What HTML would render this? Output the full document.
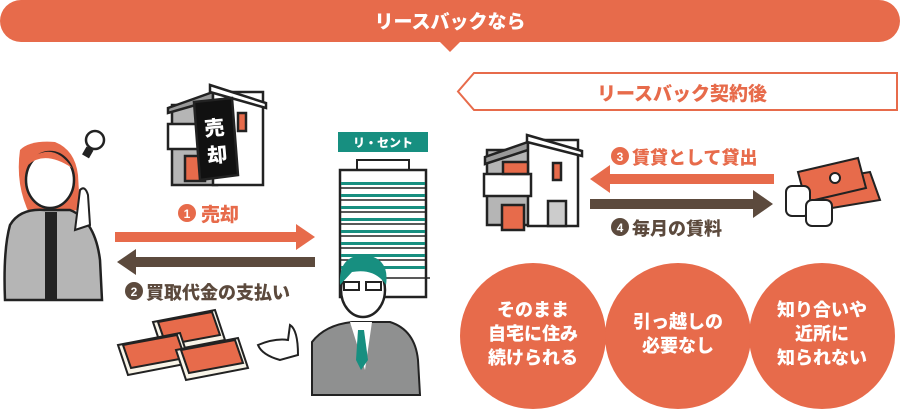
<!DOCTYPE html>
<html><head><meta charset="utf-8"><style>
html,body{margin:0;padding:0;background:#fff}
svg{display:block}
text{font-family:"Liberation Sans","Noto Sans CJK JP",sans-serif;font-weight:900}
</style></head><body>
<svg width="900" height="415" viewBox="0 0 900 415" xmlns="http://www.w3.org/2000/svg">
<path d="M21 0 H879 A21 21 0 0 1 879 42 H460 L450 52 L440 42 H21 A21 21 0 0 1 21 0 Z" fill="#E76B4B"/>
<text x="450" y="28" font-size="19" fill="#fff" text-anchor="middle">リースバックなら</text>
<path d="M474 73 H897 V110 H474 L458 91.5 Z" fill="#fff" stroke="#E76B4B" stroke-width="2"/>
<text x="682" y="100" font-size="19" fill="#E76B4B" text-anchor="middle">リースバック契約後</text>

<g stroke="#222" stroke-width="2.5">
<rect x="172" y="105" width="45" height="80" fill="#b5b5b5"/>
<polygon points="168,108 213,92 213,100 168,113" fill="#999"/>
<rect x="213" y="92" width="50" height="93" fill="#fff"/>
<polygon points="210,85 266,103 266,108 210,92" fill="#fff"/>
<rect x="168" y="124" width="45" height="25" fill="#fff"/>
<rect x="238" y="113" width="8" height="18" fill="#E76B4B"/>
<rect x="185" y="156" width="20" height="25" fill="#E76B4B"/>
<polygon points="194,102 232,98 238,175 200,180" fill="#111"/>
</g>
<text x="215" y="135" font-size="20" fill="#fff" text-anchor="middle" transform="rotate(-5 215 135)">売</text>
<text x="218" y="162" font-size="20" fill="#fff" text-anchor="middle" transform="rotate(-5 218 162)">却</text>

<rect x="338" y="132" width="90" height="20" fill="#178F80"/>
<text x="383" y="147" font-size="12" fill="#fff" text-anchor="middle">リ・セント</text>
<rect x="357" y="160" width="52" height="10" fill="#fff" stroke="#222" stroke-width="2"/>
<rect x="340" y="170" width="86" height="127" fill="#fff" stroke="#222" stroke-width="2.5"/>
<g fill="#178F80">
<rect x="341" y="182" width="84" height="3"/><rect x="341" y="194" width="84" height="3"/><rect x="341" y="206" width="84" height="3"/><rect x="341" y="218" width="84" height="3"/><rect x="341" y="230" width="84" height="3"/><rect x="341" y="242" width="84" height="3"/><rect x="341" y="254" width="84" height="3"/><rect x="341" y="266" width="84" height="3"/>
</g>
<g stroke="#222" stroke-width="1.5"><line x1="340" y1="188" x2="426" y2="188"/><line x1="340" y1="200" x2="426" y2="200"/><line x1="340" y1="212" x2="426" y2="212"/><line x1="340" y1="224" x2="426" y2="224"/><line x1="340" y1="236" x2="426" y2="236"/><line x1="340" y1="248" x2="426" y2="248"/><line x1="340" y1="260" x2="426" y2="260"/><line x1="340" y1="278" x2="430" y2="278"/></g>

<path d="M20 150 Q30 140 55 142 Q75 150 78 175 L80 210 L30 215 Q15 185 20 150Z" fill="#E76B4B"/>
<ellipse cx="50" cy="180" rx="24" ry="28" fill="#fff" stroke="#222" stroke-width="2.5"/>
<path d="M28 165 Q45 150 72 168 Q60 150 45 152 Q30 155 28 165Z" fill="#E76B4B"/>
<path d="M10 225 Q20 208 45 210 L70 210 Q95 220 100 260 L102 300 L5 300 Q3 250 10 225Z" fill="#b5b5b5" stroke="#222" stroke-width="2.5"/>
<rect x="45" y="212" width="12" height="88" fill="#222"/>
<path d="M80 190 Q85 185 88 195 L90 225 L75 230Z" fill="#fff" stroke="#222" stroke-width="2"/>
<circle cx="95" cy="140" r="9" fill="#fff" stroke="#222" stroke-width="2.5"/>
<rect x="84" y="148" width="8" height="9" fill="#222" transform="rotate(30 88 152)"/>

<rect x="115" y="232" width="183" height="10" fill="#E76B4B"/>
<polygon points="296,224 315,237 296,250" fill="#E76B4B"/>
<rect x="134" y="257" width="181" height="10" fill="#5C4A3D"/>
<polygon points="136,249 117,262 136,275" fill="#5C4A3D"/>
<circle cx="187" cy="213" r="9" fill="#E76B4B"/><text x="187" y="218" font-size="12" fill="#fff" text-anchor="middle">1</text>
<text x="201" y="221" font-size="19" fill="#E76B4B">売却</text>
<circle cx="134" cy="291" r="9" fill="#5C4A3D"/><text x="134" y="296" font-size="12" fill="#fff" text-anchor="middle">2</text>
<text x="146" y="299" font-size="18" fill="#5C4A3D">買取代金の支払い</text>

<g stroke="#222" stroke-width="2">
<polygon points="153,322 215,310 225,340 163,352" fill="#f8f4e8"/>
<polygon points="158,322 212,312 220,335 166,345" fill="#E76B4B"/>
<polygon points="118,345 180,333 190,363 128,375" fill="#f8f4e8"/>
<polygon points="123,345 177,335 185,358 131,368" fill="#E76B4B"/>
<polygon points="176,350 238,338 248,368 186,380" fill="#f8f4e8"/>
<polygon points="181,350 235,340 243,363 189,373" fill="#E76B4B"/>
</g>

<path d="M312 342 Q325 325 352 322 L390 322 Q415 330 418 360 L420 395 L312 395Z" fill="#8f9090" stroke="#222" stroke-width="2"/>
<polygon points="350,322 372,322 365,370" fill="#fff"/>
<polygon points="358,330 364,330 368,360 361,370 356,360" fill="#178F80"/>
<ellipse cx="363" cy="290" rx="22" ry="27" fill="#fff" stroke="#222" stroke-width="2.5"/>
<path d="M340 285 Q338 255 365 255 Q390 258 386 285 Q375 268 352 272 Z" fill="#178F80"/>
<rect x="344" y="282" width="15" height="8" fill="none" stroke="#222" stroke-width="2"/><rect x="366" y="282" width="15" height="8" fill="none" stroke="#222" stroke-width="2"/>
<path d="M258 345 Q275 338 288 340 L290 325 Q298 330 298 355 L280 360 Q262 355 258 345Z" fill="#fff" stroke="#222" stroke-width="2"/>

<g stroke="#222" stroke-width="2.5">
<rect x="487" y="150" width="44" height="75" fill="#b5b5b5"/>
<polygon points="485,157 528,142 528,150 485,164" fill="#999"/>
<rect x="528" y="140" width="50" height="86" fill="#fff"/>
<polygon points="527,135 582,151 582,156 527,142" fill="#fff"/>
<rect x="484" y="174" width="47" height="22" fill="#fff"/>
<rect x="503" y="162" width="25" height="12" fill="#E76B4B"/>
<rect x="553" y="163" width="8" height="17" fill="#E76B4B"/>
<rect x="502" y="205" width="22" height="25" fill="#E76B4B"/>
<rect x="548" y="201" width="18" height="25" fill="#ccc"/>
</g>

<rect x="608" y="174" width="166" height="10" fill="#E76B4B"/>
<polygon points="610,165 590,179 610,193" fill="#E76B4B"/>
<rect x="590" y="199" width="165" height="10" fill="#5C4A3D"/>
<polygon points="753,190 773,204 753,218" fill="#5C4A3D"/>
<circle cx="620" cy="156" r="9" fill="#E76B4B"/><text x="620" y="161" font-size="12" fill="#fff" text-anchor="middle">3</text>
<text x="632" y="164" font-size="18" fill="#E76B4B">賃貸として貸出</text>
<circle cx="620" cy="227" r="9" fill="#5C4A3D"/><text x="620" y="232" font-size="12" fill="#fff" text-anchor="middle">4</text>
<text x="632" y="235" font-size="18" fill="#5C4A3D">毎月の賃料</text>

<g stroke="#222" stroke-width="2">
<polygon points="810,182 870,172 880,200 820,210" fill="#E76B4B"/>
<polygon points="798,172 858,158 866,188 806,202" fill="#E76B4B"/>
<circle cx="835" cy="178" r="5" fill="#fff"/>
<rect x="786" y="186" width="24" height="30" rx="6" fill="#fff"/>
<rect x="806" y="200" width="26" height="26" rx="6" fill="#fff"/>
</g>

<circle cx="533" cy="336" r="73" fill="#E76B4B"/>
<circle cx="678" cy="336" r="73" fill="#E76B4B"/>
<circle cx="822" cy="336" r="73" fill="#E76B4B"/>
<g font-size="18" fill="#fff" text-anchor="middle">
<text x="533" y="316">そのまま</text><text x="533" y="340">自宅に住み</text><text x="533" y="364">続けられる</text>
<text x="678" y="328">引っ越しの</text><text x="678" y="352">必要なし</text>
<text x="822" y="316">知り合いや</text><text x="822" y="340">近所に</text><text x="822" y="364">知られない</text>
</g>
</svg>
</body></html>
